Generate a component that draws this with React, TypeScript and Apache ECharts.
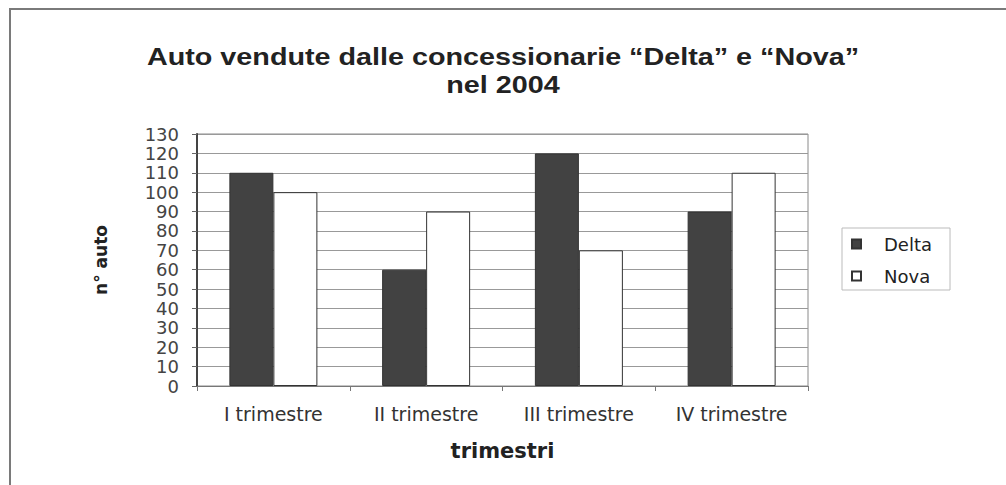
import React, { useEffect, useRef } from "react";
import * as echarts from "echarts";

const categories = ["I trimestre", "II trimestre", "III trimestre", "IV trimestre"];
const deltaValues = [110, 60, 120, 90];
const novaValues = [100, 90, 70, 110];
const titleLines = ["Auto vendute dalle concessionarie \u201cDelta\u201d e \u201cNova\u201d", "nel 2004"];
const FONT = "DejaVu Sans";
const TITLE_FONT = "Liberation Sans";

export default function App() {
  const ref = useRef<HTMLDivElement>(null);
  useEffect(() => {
    if (!ref.current) return;
    const chart = echarts.init(ref.current, null, { renderer: "svg" });
    chart.setOption({
      animation: false,
      backgroundColor: "#ffffff",
      graphic: [
        {
          type: "rect",
          shape: { x: 10, y: 9, width: 1100, height: 600 },
          style: { fill: "none", stroke: "#7a7a7a", lineWidth: 2 },
          silent: true,
        },
        ...titleLines.map((t, i) => ({
          type: "text",
          x: 503,
          y: 57 + i * 28,
          scaleX: 1.25,
          style: {
            text: t,
            fontFamily: TITLE_FONT,
            fontSize: 23,
            fontWeight: "bold",
            fill: "#222",
            textAlign: "center",
            textVerticalAlign: "middle",
          },
        })),
      ],
      legend: {
        orient: "vertical",
        left: 842,
        top: 228,
        padding: [6, 18, 4, 9],
        borderColor: "#bbbbbb",
        borderWidth: 1,
        itemWidth: 9,
        itemHeight: 9,
        itemGap: 12,
        icon: "rect",
        textStyle: { fontFamily: FONT, fontSize: 18, color: "#222", lineHeight: 20, padding: [0, 0, 0, 18] },
        data: ["Delta", "Nova"],
      },
      grid: {
        left: 197,
        right: 198,
        top: 134,
        bottom: 99,
        show: true,
        borderColor: "#8a8a8a",
        borderWidth: 1,
        backgroundColor: "#ffffff",
      },
      xAxis: {
        type: "category",
        data: categories,
        name: "trimestri",
        nameLocation: "middle",
        nameGap: 54,
        nameTextStyle: { fontFamily: FONT, fontSize: 21, fontWeight: "bold", color: "#222" },
        axisLine: { lineStyle: { color: "#777", width: 1 } },
        axisTick: { show: true, length: 5, lineStyle: { color: "#777" } },
        axisLabel: { interval: 0, fontFamily: FONT, fontSize: 19, color: "#333", margin: 18 },
      },
      yAxis: {
        type: "value",
        min: 0,
        max: 130,
        interval: 10,
        name: "n\u00b0 auto",
        nameLocation: "middle",
        nameGap: 88,
        nameTextStyle: { fontFamily: FONT, fontSize: 17, fontWeight: "bold", color: "#222" },
        axisLine: { show: true, lineStyle: { color: "#444", width: 2 } },
        axisTick: { show: true, length: 5, lineStyle: { color: "#666" } },
        axisLabel: { fontFamily: FONT, fontSize: 18, color: "#444", margin: 18 },
        splitLine: { show: true, lineStyle: { color: "#999", width: 1 } },
      },
      series: [
        {
          name: "Delta",
          type: "bar",
          data: deltaValues,
          barWidth: 44,
          barGap: "0%",
          itemStyle: { color: "#424242", borderColor: "#333", borderWidth: 1 },
        },
        {
          name: "Nova",
          type: "bar",
          data: novaValues,
          barWidth: 44,
          barGap: "0%",
          itemStyle: { color: "#ffffff", borderColor: "#333", borderWidth: 1 },
        },
      ],
    });
    return () => chart.dispose();
  }, []);
  return (
    <div
      ref={ref}
      style={{ position: "fixed", left: 0, top: 0, width: 1006, height: 485, background: "#fff" }}
    />
  );
}
